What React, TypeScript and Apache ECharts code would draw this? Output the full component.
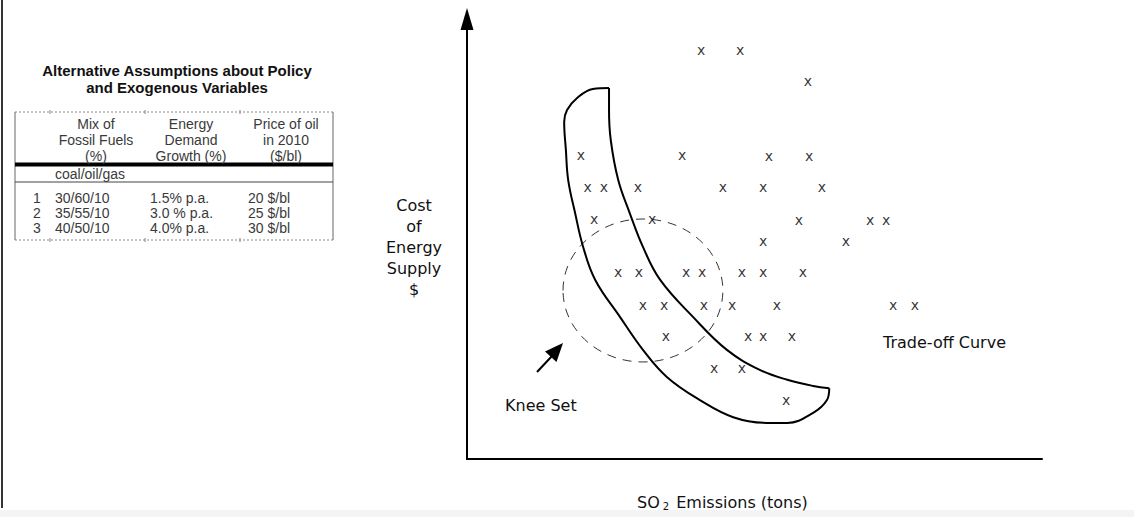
import React, { useEffect, useRef } from "react";
import * as echarts from "echarts";

// ---- Scatter of alternative plans (x = SO2 emissions, y = cost), in axis units 0..100
const planEmissions = [
  40.7, 47.5,
  59.3,
  19.8, 37.4, 52.5, 59.5,
  21.0, 23.8, 29.7, 44.5, 51.5, 61.7,
  22.1, 32.2, 57.7, 70.1, 72.9,
  51.5, 65.9,
  26.3, 29.9, 38.1, 40.9, 47.8, 51.5, 58.4,
  30.6, 34.3, 41.2, 46.1, 53.9, 74.1, 77.9,
  34.6, 48.9, 51.5, 56.5,
  43.0, 47.8,
  55.5,
];
const planCost = [
  92.5, 92.5,
  85.5,
  68.6, 68.6, 68.4, 68.4,
  61.4, 61.4, 61.4, 61.4, 61.4, 61.4,
  54.1, 54.1, 53.9, 53.9, 53.9,
  49.1, 49.1,
  42.0, 42.0, 42.0, 42.0, 42.0, 42.0, 42.0,
  34.5, 34.5, 34.5, 34.5, 34.5, 34.5, 34.5,
  27.5, 27.5, 27.5, 27.5,
  20.2, 20.2,
  13.0,
];

// ---- Trade-off curve band: outer (lower-left) edge and inner (upper-right) edge
const outerEdgeX = [24.7, 21.9, 19.1, 17.4, 16.9, 17.2, 17.6, 18.8, 20.2, 22.3, 26.6, 30.6, 34.8, 40.5, 46.3, 52.2, 55.7, 60.2, 62.6, 63.0];
const outerEdgeY = [84.3, 84.1, 82.0, 79.3, 76.6, 70.2, 63.4, 55.9, 48.2, 40.7, 32.3, 24.8, 18.6, 13.4, 9.5, 8.2, 8.2, 10.5, 13.4, 16.1];
const innerEdgeX = [63.0, 60.2, 55.7, 51.0, 45.2, 39.3, 33.6, 30.6, 28.3, 26.3, 25.0, 24.7, 24.7];
const innerEdgeY = [16.1, 16.6, 18.0, 20.2, 24.8, 32.3, 40.7, 48.2, 55.9, 63.4, 72.5, 79.3, 84.3];

// ---- Knee set (dashed ellipse): centre x, centre y, radius x, radius y
const kneeSet = [30.6, 38.3, 13.9, 16.25];

// ---- Table
const tableTitle = ["Alternative Assumptions about Policy", "and Exogenous Variables"];
const headerMix = ["Mix of", "Fossil Fuels", "(%)"];
const headerGrowth = ["Energy", "Demand", "Growth (%)"];
const headerPrice = ["Price of oil", "in 2010", "($/bl)"];
const mixUnit = "coal/oil/gas";
const scenarioIds = ["1", "2", "3"];
const fuelMix = ["30/60/10", "35/55/10", "40/50/10"];
const demandGrowth = ["1.5% p.a.", "3.0 % p.a.", "4.0% p.a."];
const oilPrice = ["20 $/bl", "25 $/bl", "30 $/bl"];

const yAxisLabel = ["Cost", "of", "Energy", "Supply", "$"];

export default function App() {
  const ref = useRef<HTMLDivElement>(null);

  useEffect(() => {
    if (!ref.current) return;
    const chart = echarts.init(ref.current, null, { renderer: "svg" });

    const tFont = "14px 'Liberation Sans', Arial, sans-serif";
    const tColor = "#3a3a3a";
    const dFont = "16px 'DejaVu Sans', Verdana, sans-serif";

    const txt = (text: string, x: number, y: number, align: string, font: string, fill: string) => ({
      type: "text",
      x,
      y,
      silent: true,
      style: { text, font, fill, textAlign: align, textVerticalAlign: "middle" },
    });
    const ln = (x1: number, y1: number, x2: number, y2: number, stroke: string, lineWidth: number, dash?: number[]) => ({
      type: "line",
      silent: true,
      shape: { x1, y1, x2, y2 },
      style: { stroke, lineWidth, lineDash: dash },
    });

    const graphics: any[] = [];
    // page border and bottom strip
    graphics.push({ type: "rect", silent: true, shape: { x: 0, y: 510, width: 1134, height: 7 }, style: { fill: "#f4f4f4" } });
    graphics.push(ln(2, 0, 2, 508, "#333", 2));

    // table title
    tableTitle.forEach((t, i) =>
      graphics.push(txt(t, 177, 70 + i * 17, "center", "bold 15px 'Liberation Sans', Arial, sans-serif", "#111"))
    );
    // table frame
    graphics.push(ln(15, 112, 333, 112, "#888", 1, [2, 2]));
    graphics.push(ln(15, 240, 333, 240, "#888", 1, [2, 2]));
    graphics.push(ln(15, 112, 15, 240, "#666", 1));
    graphics.push(ln(333, 112, 333, 240, "#666", 1));
    [50, 145, 240].forEach((cx) => {
      graphics.push(ln(cx, 110, cx, 114, "#888", 1));
      graphics.push(ln(cx, 238, cx, 242, "#888", 1));
    });
    graphics.push(ln(15, 164.5, 333, 164.5, "#000", 4));
    graphics.push(ln(15, 182, 333, 182, "#444", 1));
    // headers
    headerMix.forEach((t, i) => graphics.push(txt(t, 96, 124 + i * 16, "center", tFont, tColor)));
    headerGrowth.forEach((t, i) => graphics.push(txt(t, 191, 124 + i * 16, "center", tFont, tColor)));
    headerPrice.forEach((t, i) => graphics.push(txt(t, 286, 124 + i * 16, "center", tFont, tColor)));
    graphics.push(txt(mixUnit, 55, 174, "left", tFont, tColor));
    scenarioIds.forEach((id, i) => {
      const y = 198 + i * 15;
      graphics.push(txt(id, 37, y, "center", tFont, tColor));
      graphics.push(txt(fuelMix[i], 55, y, "left", tFont, tColor));
      graphics.push(txt(demandGrowth[i], 150, y, "left", tFont, tColor));
      graphics.push(txt(oilPrice[i], 248, y, "left", tFont, tColor));
    });

    // diagram labels
    yAxisLabel.forEach((t, i) => graphics.push(txt(t, 414, 205 + i * 21, "center", dFont, "#111")));
    graphics.push(txt("Trade-off Curve", 883, 342, "left", dFont, "#111"));
    graphics.push(txt("Knee Set", 505, 405, "left", dFont, "#111"));
    graphics.push({
      type: "text",
      x: 637,
      y: 502,
      silent: true,
      style: {
        text: "{n|SO}{s|2}{n| Emissions (tons)}",
        font: dFont,
        fill: "#111",
        textAlign: "left",
        textVerticalAlign: "middle",
        rich: {
          n: { font: dFont, fill: "#111" },
          s: { font: "10px 'DejaVu Sans', Verdana, sans-serif", fill: "#111", padding: [8, 2, 0, 3] },
        },
      },
    });
    // knee-set arrow
    graphics.push(ln(537, 372, 552, 356, "#000", 2));
    graphics.push({
      type: "polygon",
      silent: true,
      shape: { points: [[563, 343], [545, 351.5], [556.5, 362]] },
      style: { fill: "#000" },
    });

    const option: any = {
      animation: false,
      backgroundColor: "#fff",
      grid: { left: 467, right: 92, top: 19, bottom: 58 },
      xAxis: {
        type: "value",
        min: 0,
        max: 100,
        axisLine: { show: true, onZero: false, lineStyle: { color: "#000", width: 2 } },
        axisTick: { show: false },
        axisLabel: { show: false },
        splitLine: { show: false },
      },
      yAxis: {
        type: "value",
        min: 0,
        max: 100,
        axisLine: {
          show: true,
          onZero: false,
          symbol: ["none", "triangle"],
          symbolSize: [13, 22],
          lineStyle: { color: "#000", width: 2 },
        },
        axisTick: { show: false },
        axisLabel: { show: false },
        splitLine: { show: false },
      },
      series: [
        {
          name: "Plans",
          type: "scatter",
          data: planEmissions.map((x, i) => [x, planCost[i]]),
          symbolSize: 1,
          itemStyle: { color: "rgba(0,0,0,0)" },
          label: {
            show: true,
            position: "inside",
            formatter: "x",
            color: "#000",
            fontFamily: "'DejaVu Sans', Verdana, sans-serif",
            fontSize: 14,
            offset: [0, -2],
          },
          silent: true,
        },
        {
          name: "Outer edge",
          type: "line",
          data: outerEdgeX.map((x, i) => [x, outerEdgeY[i]]),
          smooth: 0.4,
          showSymbol: false,
          lineStyle: { color: "#000", width: 2 },
          silent: true,
        },
        {
          name: "Inner edge",
          type: "line",
          data: innerEdgeX.map((x, i) => [x, innerEdgeY[i]]),
          smooth: 0.4,
          showSymbol: false,
          lineStyle: { color: "#000", width: 2 },
          silent: true,
        },
        {
          name: "Knee Set",
          type: "custom",
          data: [kneeSet],
          silent: true,
          renderItem: (params: any, api: any) => {
            const c = api.coord([api.value(0), api.value(1)]);
            const s = api.size([api.value(2), api.value(3)]);
            return {
              type: "ellipse",
              shape: { cx: c[0], cy: c[1], rx: s[0], ry: s[1] },
              style: { fill: "none", stroke: "#333", lineWidth: 1, lineDash: [9, 7] },
            };
          },
        },
      ],
      graphic: graphics,
    };

    chart.setOption(option);
    return () => chart.dispose();
  }, []);

  return (
    <div
      ref={ref}
      style={{ position: "fixed", left: 0, top: 0, width: 1134, height: 517, background: "#fff" }}
    />
  );
}
